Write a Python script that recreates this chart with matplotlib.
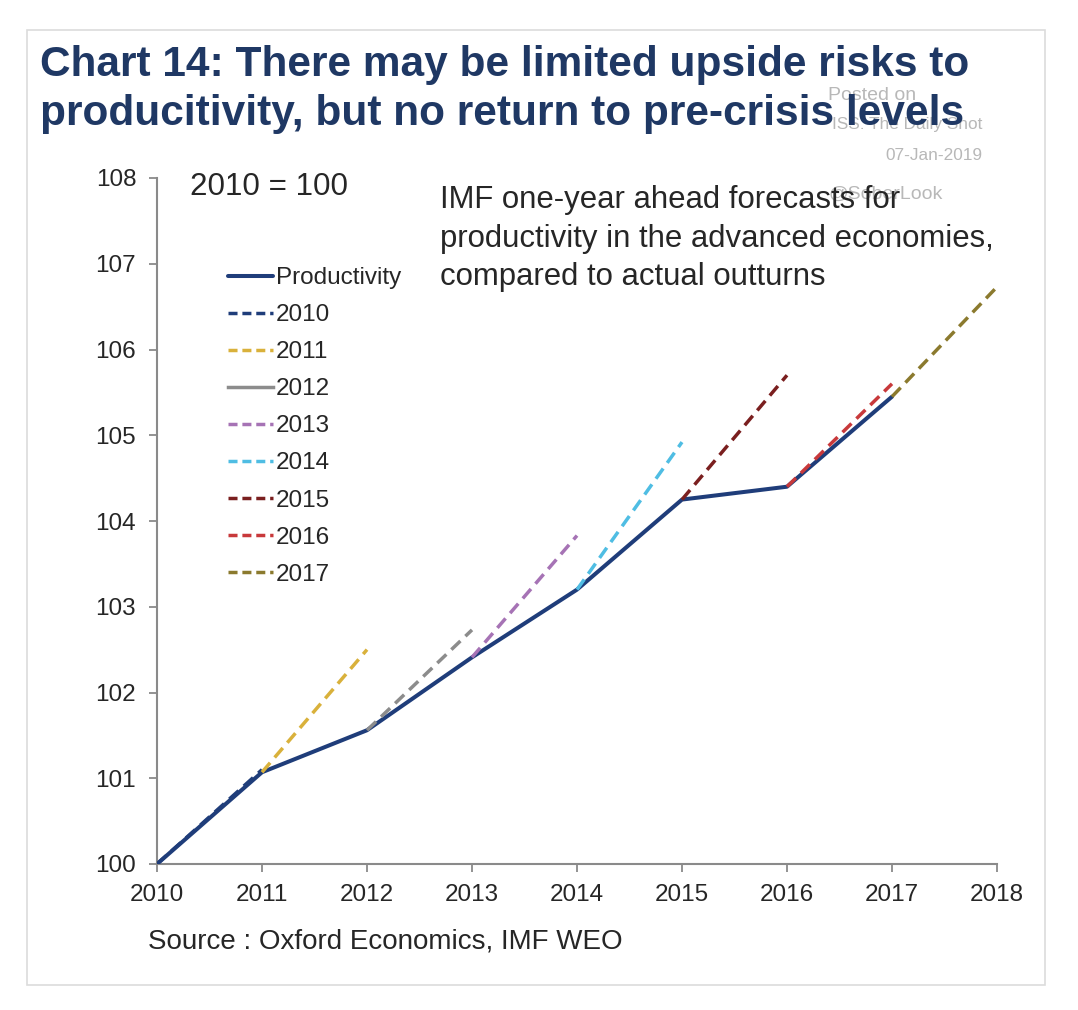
import matplotlib
matplotlib.use("Agg")
import matplotlib.pyplot as plt
from matplotlib.lines import Line2D
from matplotlib.patches import Rectangle

plt.rcParams['font.family'] = ['Liberation Sans', 'DejaVu Sans']

years = [2010, 2011, 2012, 2013, 2014, 2015, 2016, 2017]
productivity = [100.0, 101.07, 101.56, 102.41, 103.2, 104.25, 104.4, 105.45]

forecast_labels = ['2010', '2011', '2012', '2013', '2014', '2015', '2016', '2017']
forecast_start = [100.0, 101.07, 101.56, 102.41, 103.2, 104.25, 104.4, 105.45]
forecast_end = [101.1, 102.5, 102.73, 103.83, 104.92, 105.70, 105.6, 106.73]
forecast_colors = ['#1f3d7a', '#d9b13b', '#8c8c8c', '#a673b5', '#4fbde3',
                   '#7a1f1f', '#c8393b', '#8b7a2e']

x_ticks = [2010, 2011, 2012, 2013, 2014, 2015, 2016, 2017, 2018]
y_ticks = [100, 101, 102, 103, 104, 105, 106, 107, 108]

title_lines = ['Chart 14: There may be limited upside risks to',
               'producitivity, but no return to pre-crisis levels']

W, H = 1078, 1010
fig = plt.figure(figsize=(W / 100, H / 100), dpi=100)
fig.patch.set_facecolor('white')

# panel border
fig.patches.append(Rectangle((27 / W, 1 - 985 / H), (1045 - 27) / W, (985 - 30) / H,
                             transform=fig.transFigure, fill=False,
                             edgecolor='#dcdcdc', linewidth=1.2))

ax = fig.add_axes([157 / W, 1 - 864 / H, (997 - 157) / W, (864 - 178) / H])

ax.plot(years, productivity, color='#1f3d7a', lw=2.9, label='Productivity',
        zorder=3, solid_capstyle='round')
for i, lab in enumerate(forecast_labels):
    y0 = years[i]
    ax.plot([y0, y0 + 1], [forecast_start[i], forecast_end[i]],
            color=forecast_colors[i], lw=2.5, dashes=(3.6, 2.0), label=lab,
            zorder=4 if i != 0 else 2)

ax.set_xlim(2010, 2018)
ax.set_ylim(100, 108)
ax.set_xticks(x_ticks)
ax.set_yticks(y_ticks)
ax.set_xticklabels([str(v) for v in x_ticks])
ax.set_yticklabels([str(v) for v in y_ticks])
for s in ['top', 'right']:
    ax.spines[s].set_visible(False)
for s in ['left', 'bottom']:
    ax.spines[s].set_color('#8a8a8a')
    ax.spines[s].set_linewidth(1.5)
ax.tick_params(axis='both', direction='out', length=5.5, width=1.3,
               color='#8a8a8a', labelsize=17.5, labelcolor='#262626')
ax.tick_params(axis='x', pad=9)
ax.tick_params(axis='y', pad=9.5)

handles, labels = ax.get_legend_handles_labels()
new_handles = []
for h, l in zip(handles, labels):
    if l == 'Productivity':
        new_handles.append(h)
    elif l == '2012':
        # 2012 is shown solid in the legend
        new_handles.append(Line2D([], [], color=h.get_color(), lw=2.5))
    else:
        new_handles.append(Line2D([], [], color=h.get_color(), lw=2.5,
                                  dashes=(2.6, 1.4)))
leg = fig.legend(new_handles, labels, loc='upper left',
                 bbox_to_anchor=(228 / W, 1 - 267 / H), frameon=False,
                 fontsize=17.5, handlelength=1.85, handletextpad=0.12,
                 labelspacing=0.62, borderpad=0, borderaxespad=0)
for t in leg.get_texts():
    t.set_color('#262626')

# texts
fig.text(190 / W, 1 - 187 / H, '2010 = 100', fontsize=22.6, color='#262626',
         va='center', ha='left')
fig.text(440 / W, 1 - 185 / H,
         'IMF one-year ahead forecasts for\nproductivity in the advanced economies,\ncompared to actual outturns',
         fontsize=22.4, color='#262626', va='top', ha='left', linespacing=1.38,
         zorder=5)
fig.text(148 / W, 1 - 942 / H, 'Source : Oxford Economics, IMF WEO', fontsize=20,
         color='#262626', va='center', ha='left')

# watermark
wm = '#b8b8b8'
fig.text(828 / W, 1 - 95 / H, 'Posted on', fontsize=14, color=wm, ha='left',
         va='center', zorder=1)
fig.text(982 / W, 1 - 125 / H, 'ISS: The Daily Shot', fontsize=12.4, color=wm,
         ha='right', va='center', zorder=1)
fig.text(982 / W, 1 - 155 / H, '07-Jan-2019', fontsize=12.4, color=wm, ha='right',
         va='center', zorder=1)
fig.text(829 / W, 1 - 194 / H, '@SoberLook', fontsize=14, color=wm, ha='left',
         va='center', zorder=1)

# title (two lines, placed by baseline)
for line, base in zip(title_lines, [76, 125]):
    fig.text(40 / W, 1 - base / H, line, fontsize=30.5, fontweight='bold',
             color='#1f3864', va='baseline', ha='left', zorder=5)

fig.savefig('out.png', dpi=100, facecolor='white')
